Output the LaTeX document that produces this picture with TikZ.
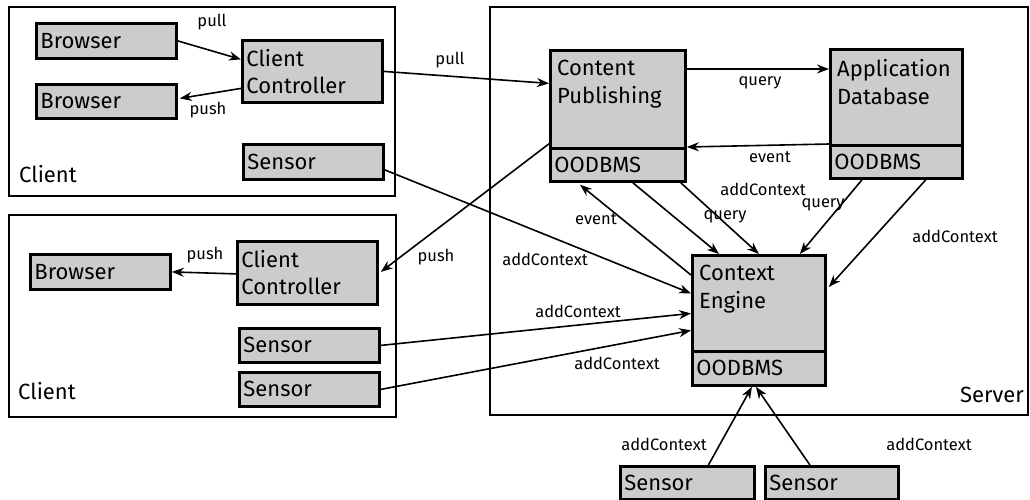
\documentclass[tikz,border=0pt]{standalone}
\usepackage{fontspec}
\setmainfont{Fira Sans}
\usetikzlibrary{arrows.meta,calc}
\definecolor{boxgray}{RGB}{204,204,204}
\tikzset{
  frame/.style={draw=black, line width=2pt},
  box/.style={draw=black, line width=2.8pt, fill=boxgray, rectangle, anchor=north west,
    inner xsep=4pt, inner ysep=0pt, align=left, font=\fontsize{22}{27}\selectfont},
  boxtext/.style={anchor=north west, inner xsep=8pt, inner ysep=11pt, align=left,
    font=\fontsize{22}{28}\selectfont},
  lbl/.style={font=\fontsize{16.5}{19}\selectfont, inner sep=1pt},
  framelbl/.style={font=\fontsize{22}{26}\selectfont, inner sep=0pt},
  conn/.style={line width=1.6pt, -{Stealth[length=12pt,width=9pt]}},
}
\newcommand{\mkbox}[6]{% name, x1, y1, x2, y2, text
  \node[box, minimum width={#4-#2}, minimum height={#5-#3}, text width={#4-#2-8}] (#1) at (#2,#3) {#6};}
\begin{document}
\begin{tikzpicture}[x=1pt, y=-1pt]
\useasboundingbox (0,0) rectangle (1030,499);

% containers
\draw[frame] (9,7) rectangle (395,196);
\draw[frame] (9,215) rectangle (396,417);
\draw[frame] (490,7) rectangle (1028,415);
\node[framelbl, anchor=west] (clientA) at (19,174) {Client};
\node[framelbl, anchor=west] (clientB) at (18,391) {Client};
\node[framelbl, anchor=east] (server) at (1024,395) {Server};

% upper client
\mkbox{b1}{35}{22}{175}{57}{Browser}
\mkbox{b2}{35}{83}{175}{117}{Browser}
\mkbox{cc1}{241}{39}{381}{101}{Client\\Controller}
\mkbox{s1}{242}{143}{382}{178}{Sensor}

% lower client
\mkbox{b3}{29}{253}{169}{288}{Browser}
\mkbox{cc2}{236}{240}{376}{303}{Client\\Controller}
\mkbox{s2}{238}{327}{378}{361}{Sensor}
\mkbox{s3}{238}{371}{378}{405}{Sensor}

% server components
\mkbox{cp}{549}{49}{684}{147}{}
\node[boxtext] (cpt) at (cp.north west) {Content\\Publishing};
\mkbox{cpdb}{549}{147}{684}{180}{OODBMS}
\mkbox{ad}{829}{48}{961}{144}{}
\node[boxtext] (adt) at (ad.north west) {Application\\Database};
\mkbox{addb}{829}{144}{961}{177}{OODBMS}
\mkbox{ce}{691}{254}{824}{350}{}
\node[boxtext] (cet) at (ce.north west) {Context\\Engine};
\mkbox{cedb}{691}{350}{824}{384}{OODBMS}

% external sensors
\mkbox{s4}{619}{465}{753}{498}{Sensor}
\mkbox{s5}{764}{465}{897}{498}{Sensor}

% connectors
\draw[conn] (b1.east) -- ($(cc1.west)+(0,-12)$);
\draw[conn] ($(cc1.west)+(0,17)$) -- ($(b2.east)+(2,-3)$);
\draw[conn] (cc1.east) -- ($(cp.west)+(0,-16)$);
\draw[conn] ($(cp.north east)+(0,20)$) -- ($(ad.north west)+(0,21)$);
\draw[conn] (addb.north west) -- (cpdb.north east);
\draw[conn] ($(cp.south west)+(0,-6)$) -- ($(cc2.east)+(2,-1)$);
\draw[conn] ($(cc2.west)+(0,1)$) -- (b3.east);
\draw[conn] ($(s1.east)+(0,8)$) -- ($(ce.west)+(0,-10)$);
\draw[conn] ($(ce.north west)+(0,21)$) -- ($(cpdb.south west)+(31,2)$);
\draw[conn] ($(cpdb.south)+(15,0)$) -- ($(ce.north west)+(28,0)$);
\draw[conn] ($(cpdb.south east)+(-6,0)$) -- (ce.north);
\draw[conn] ($(addb.south west)+(33,0)$) -- ($(ce.north east)+(-27,0)$);
\draw[conn] ($(addb.south east)+(-38,0)$) -- ($(ce.north east)+(2,33)$);
\draw[conn] (s2.east) -- ($(ce.west)+(0,10)$);
\draw[conn] (s3.east) -- ($(ce.west)+(0,27)$);
\draw[conn] ($(s4.north)+(21,0)$) -- ($(cedb.south)+(-7,0)$);
\draw[conn] ($(s5.north)+(-22,0)$) -- ($(cedb.south)+(-3,0)$);

% connector labels
\node[lbl] (l1) at (212,22) {pull};
\node[lbl] (l2) at (208,110) {push};
\node[lbl] (l3) at (450,60) {pull};
\node[lbl] (l4) at (760,83) {query};
\node[lbl] (l5) at (770,157) {event};
\node[lbl] (l6) at (436,257) {push};
\node[lbl] (l7) at (205,255) {push};
\node[lbl] (l8) at (545,259) {addContext};
\node[lbl] (l9) at (596,219) {event};
\node[lbl] (l10) at (725,217) {query};
\node[lbl] (l11) at (763,189) {addContext};
\node[lbl] (l12) at (823,205) {query};
\node[lbl] (l13) at (955,236) {addContext};
\node[lbl] (l14) at (578,311) {addContext};
\node[lbl] (l15) at (617,363) {addContext};
\node[lbl] (l16) at (664,444) {addContext};
\node[lbl] (l17) at (929,444) {addContext};
\end{tikzpicture}
\end{document}
